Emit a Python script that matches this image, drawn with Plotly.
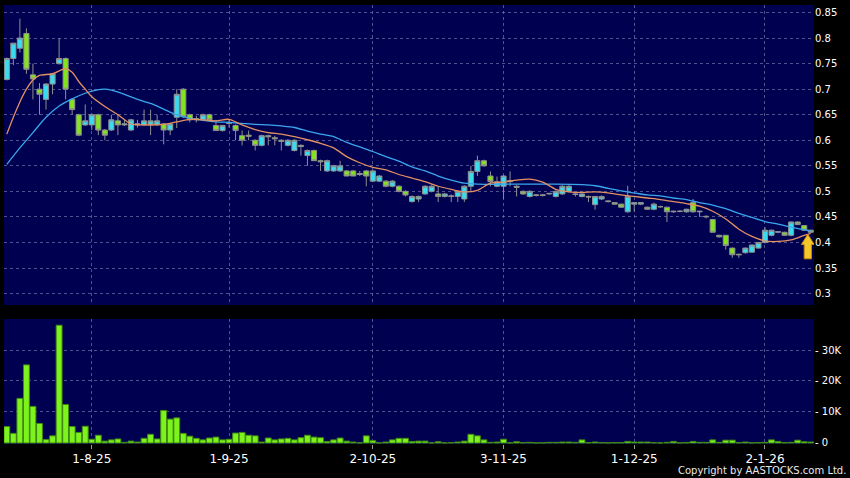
import plotly.graph_objects as go

# ---------------- data ----------------
opens = [0.719, 0.760, 0.780, 0.809, 0.728, 0.700, 0.680, 0.710, 0.750, 0.760,
         0.680, 0.650, 0.630, 0.630, 0.650, 0.620, 0.620, 0.638, 0.630, 0.620,
         0.630, 0.630, 0.631, 0.631, 0.632, 0.620, 0.645, 0.700, 0.650, 0.640,
         0.640, 0.650, 0.629, 0.619, 0.635, 0.629, 0.609, 0.610, 0.600, 0.590,
         0.609, 0.605, 0.600, 0.590, 0.580, 0.590, 0.570, 0.580, 0.560, 0.540,
         0.540, 0.540, 0.540, 0.540, 0.535, 0.540, 0.520, 0.520, 0.520, 0.510,
         0.510, 0.500, 0.480, 0.485, 0.495, 0.500, 0.495, 0.490, 0.490, 0.490,
         0.485, 0.510, 0.539, 0.560, 0.530, 0.510, 0.510, 0.519, 0.510, 0.500,
         0.490, 0.492, 0.492, 0.495, 0.490, 0.495, 0.500, 0.495, 0.490, 0.490,
         0.474, 0.485, 0.480, 0.478, 0.475, 0.460, 0.475, 0.475, 0.469, 0.465,
         0.470, 0.469, 0.460, 0.461, 0.460, 0.478, 0.460, 0.450, 0.445, 0.414,
         0.414, 0.389, 0.377, 0.380, 0.381, 0.389, 0.400, 0.414, 0.420, 0.420,
         0.414, 0.440, 0.433, 0.424]
closes = [0.760, 0.790, 0.800, 0.739, 0.720, 0.690, 0.710, 0.730, 0.760, 0.700,
          0.660, 0.610, 0.638, 0.650, 0.620, 0.610, 0.640, 0.630, 0.632, 0.640,
          0.632, 0.638, 0.638, 0.638, 0.620, 0.632, 0.690, 0.646, 0.640, 0.642,
          0.650, 0.640, 0.619, 0.629, 0.633, 0.619, 0.600, 0.608, 0.590, 0.609,
          0.607, 0.603, 0.598, 0.600, 0.600, 0.588, 0.580, 0.560, 0.558, 0.560,
          0.550, 0.550, 0.530, 0.530, 0.533, 0.530, 0.540, 0.530, 0.510, 0.520,
          0.500, 0.493, 0.490, 0.490, 0.510, 0.510, 0.490, 0.495, 0.491, 0.500,
          0.510, 0.539, 0.560, 0.550, 0.519, 0.519, 0.530, 0.521, 0.508, 0.495,
          0.500, 0.493, 0.493, 0.496, 0.500, 0.510, 0.510, 0.494, 0.495, 0.489,
          0.490, 0.490, 0.481, 0.475, 0.469, 0.490, 0.478, 0.478, 0.465, 0.475,
          0.470, 0.460, 0.461, 0.461, 0.465, 0.460, 0.461, 0.451, 0.420, 0.411,
          0.394, 0.376, 0.376, 0.389, 0.395, 0.400, 0.424, 0.424, 0.421, 0.414,
          0.440, 0.435, 0.424, 0.420]
highs = [0.762, 0.790, 0.838, 0.819, 0.750, 0.712, 0.712, 0.732, 0.800, 0.762,
         0.682, 0.652, 0.670, 0.652, 0.652, 0.622, 0.650, 0.650, 0.640, 0.642,
         0.640, 0.660, 0.660, 0.650, 0.634, 0.634, 0.700, 0.702, 0.652, 0.648,
         0.652, 0.652, 0.640, 0.630, 0.641, 0.631, 0.619, 0.619, 0.602, 0.611,
         0.611, 0.609, 0.602, 0.602, 0.602, 0.592, 0.582, 0.582, 0.562, 0.562,
         0.552, 0.560, 0.542, 0.542, 0.540, 0.542, 0.542, 0.532, 0.522, 0.522,
         0.512, 0.502, 0.492, 0.492, 0.512, 0.512, 0.510, 0.497, 0.494, 0.502,
         0.512, 0.550, 0.570, 0.562, 0.539, 0.529, 0.532, 0.539, 0.512, 0.502,
         0.502, 0.494, 0.494, 0.497, 0.502, 0.512, 0.512, 0.497, 0.496, 0.492,
         0.490, 0.492, 0.482, 0.479, 0.476, 0.511, 0.478, 0.478, 0.470, 0.478,
         0.472, 0.470, 0.462, 0.463, 0.466, 0.485, 0.462, 0.453, 0.446, 0.415,
         0.415, 0.390, 0.378, 0.390, 0.396, 0.401, 0.430, 0.425, 0.422, 0.421,
         0.441, 0.441, 0.434, 0.425]
lows = [0.717, 0.747, 0.772, 0.730, 0.680, 0.650, 0.660, 0.690, 0.748, 0.680,
        0.650, 0.608, 0.628, 0.620, 0.610, 0.600, 0.618, 0.610, 0.628, 0.618,
        0.625, 0.628, 0.610, 0.628, 0.592, 0.610, 0.624, 0.644, 0.635, 0.635,
        0.638, 0.638, 0.618, 0.617, 0.625, 0.600, 0.590, 0.600, 0.580, 0.588,
        0.590, 0.590, 0.580, 0.588, 0.578, 0.570, 0.550, 0.560, 0.540, 0.538,
        0.538, 0.538, 0.530, 0.530, 0.530, 0.510, 0.518, 0.518, 0.508, 0.508,
        0.498, 0.490, 0.478, 0.479, 0.493, 0.498, 0.479, 0.488, 0.479, 0.479,
        0.479, 0.500, 0.530, 0.548, 0.510, 0.508, 0.485, 0.510, 0.490, 0.493,
        0.488, 0.490, 0.490, 0.493, 0.488, 0.493, 0.498, 0.490, 0.488, 0.479,
        0.464, 0.483, 0.478, 0.474, 0.468, 0.458, 0.460, 0.473, 0.464, 0.463,
        0.468, 0.440, 0.458, 0.459, 0.458, 0.458, 0.450, 0.447, 0.420, 0.410,
        0.386, 0.370, 0.370, 0.378, 0.380, 0.388, 0.398, 0.412, 0.418, 0.413,
        0.412, 0.434, 0.423, 0.419]
volumes = [5300, 3100, 14400, 25200, 11800, 6300, 1100, 2300, 38000, 12400,
           5300, 3400, 5400, 1200, 2500, 600, 1000, 1300, 200, 600,
           300, 1500, 2800, 1300, 10500, 7700, 8100, 3100, 2200, 1500,
           1000, 1600, 1900, 1000, 1200, 3200, 3400, 2500, 2300, 300,
           1600, 1000, 1300, 1500, 1000, 1700, 2500, 1900, 1700, 500,
           1000, 1600, 600, 300, 0, 2300, 750, 0, 300, 1000,
           1500, 1500, 500, 600, 600, 0, 400, 0, 100, 300,
           600, 2800, 2300, 1000, 200, 300, 1200, 0, 400, 100,
           200, 0, 0, 200, 200, 300, 300, 200, 1000, 100,
           300, 100, 0, 100, 100, 500, 300, 300, 300, 100,
           0, 200, 500, 0, 100, 500, 200, 200, 1000, 200,
           900, 900, 100, 300, 0, 100, 200, 1000, 500, 100,
           200, 900, 400, 300]

# moving averages at selected sessions
ma_short_idx = [0, 1, 2, 3, 4, 5, 7, 9, 10, 11, 12, 13, 15, 17, 19, 21, 24, 26, 28, 30,
                32, 34, 36, 38, 40, 42, 44, 46, 48, 50, 52, 54, 56, 58, 60, 62, 64, 66, 68, 70,
                72, 74, 76, 78, 80, 82, 84, 86, 88, 90, 92, 94, 96, 98, 100, 102, 104, 106, 108, 110,
                112, 114, 116, 118, 120, 122, 123]
ma_short_val = [0.612, 0.645, 0.675, 0.700, 0.718, 0.727, 0.730, 0.740, 0.733, 0.715,
                0.700, 0.685, 0.666, 0.650, 0.632, 0.630, 0.631, 0.636, 0.641, 0.640,
                0.638, 0.641, 0.630, 0.621, 0.615, 0.612, 0.607, 0.601, 0.594, 0.585,
                0.568, 0.556, 0.547, 0.542, 0.533, 0.526, 0.519, 0.510, 0.504, 0.499,
                0.502, 0.516, 0.518, 0.522, 0.524, 0.518, 0.504, 0.499, 0.498, 0.499,
                0.497, 0.493, 0.490, 0.487, 0.484, 0.480, 0.476, 0.471, 0.461, 0.446,
                0.426, 0.412, 0.403, 0.402, 0.405, 0.414, 0.418]
ma_long_idx = [0, 2, 4, 6, 8, 10, 12, 14, 15, 16, 18, 20, 22, 24, 26, 28, 30, 32, 34, 36,
               38, 40, 42, 44, 46, 48, 50, 52, 54, 56, 58, 60, 62, 64, 66, 68, 70, 72, 76, 80,
               84, 88, 90, 92, 94, 96, 98, 100, 102, 104, 106, 108, 110, 112, 114, 116, 118, 120, 122, 123]
ma_long_val = [0.553, 0.585, 0.615, 0.645, 0.667, 0.681, 0.692, 0.699, 0.700, 0.698,
               0.690, 0.680, 0.672, 0.661, 0.650, 0.643, 0.639, 0.636, 0.635, 0.633,
               0.631, 0.630, 0.628, 0.625, 0.618, 0.612, 0.607, 0.596, 0.587, 0.578,
               0.568, 0.559, 0.548, 0.540, 0.530, 0.522, 0.516, 0.514, 0.514, 0.514,
               0.514, 0.513, 0.511, 0.506, 0.501, 0.497, 0.493, 0.491, 0.487, 0.484,
               0.478, 0.473, 0.466, 0.457, 0.449, 0.441, 0.436, 0.430, 0.425, 0.422]

tick_idx = [13, 34, 56, 76, 96, 116]
tick_text = ["1-8-25", "1-9-25", "2-10-25", "3-11-25", "1-12-25", "2-1-26"]
price_ticks = [0.3, 0.35, 0.4, 0.45, 0.5, 0.55, 0.6, 0.65, 0.7, 0.75, 0.8, 0.85]
vol_ticks = [0, 10000, 20000, 30000]
vol_text = ["0", "10K", "20K", "30K"]

# ---------------- figure ----------------
x = list(range(len(opens)))
n = len(x)

NAVY = "#000050"
GRID = "rgba(115,115,170,0.7)"
WICK = "#8f8f8f"
CYAN = "#38dcee"
LIME = "#84e31f"
FONT = "DejaVu Sans"

fig = go.Figure()

fig.add_trace(go.Candlestick(
    x=x, open=opens, high=highs, low=lows, close=closes,
    increasing=dict(fillcolor=CYAN, line=dict(color=WICK, width=1)),
    decreasing=dict(fillcolor=LIME, line=dict(color=WICK, width=1)),
    whiskerwidth=0, xaxis="x", yaxis="y", showlegend=False, hoverinfo="skip",
))

fig.add_trace(go.Scatter(
    x=ma_long_idx, y=ma_long_val, mode="lines",
    line=dict(color="#3aa6ee", width=1.3, shape="spline", smoothing=0.8),
    xaxis="x", yaxis="y", showlegend=False, hoverinfo="skip",
))
fig.add_trace(go.Scatter(
    x=ma_short_idx, y=ma_short_val, mode="lines",
    line=dict(color="#e39062", width=1.3, shape="spline", smoothing=0.8),
    xaxis="x", yaxis="y", showlegend=False, hoverinfo="skip",
))

fig.add_trace(go.Bar(
    x=x, y=volumes, marker=dict(color="#7ef21c", line=dict(color="#3f8a12", width=1)),
    xaxis="x2", yaxis="y2", showlegend=False, hoverinfo="skip",
))

# yellow arrow pointing at the latest session
ax = x[-1] - 0.45
tip = lows[-1] - 0.003
head = tip - 0.020
tail = tip - 0.048
arrow_path = (f"M {ax} {tip} L {ax + 0.98} {head} L {ax + 0.55} {head} "
              f"L {ax + 0.55} {tail} L {ax - 0.55} {tail} L {ax - 0.55} {head} "
              f"L {ax - 0.98} {head} Z")
fig.add_shape(type="path", path=arrow_path, xref="x", yref="y",
              fillcolor="#f7c62a", line=dict(color="#c98a0c", width=1))

xr = [-0.43, n - 0.5]
common_x = dict(range=xr, tickmode="array", tickvals=tick_idx, showgrid=True,
                gridcolor=GRID, griddash="3px,3px", gridwidth=1, zeroline=False,
                showline=False)

fig.update_layout(
    width=850, height=478,
    margin=dict(l=4, r=36, t=5, b=34),
    paper_bgcolor="black", plot_bgcolor=NAVY,
    bargap=0.1, boxgap=0.22, boxgroupgap=0,
    showlegend=False,
    font=dict(family=FONT, color="#ffffff"),
    xaxis=dict(**common_x, domain=[0, 1], anchor="y", showticklabels=False,
               ticks="", rangeslider=dict(visible=False)),
    xaxis2=dict(**common_x, domain=[0, 1], anchor="y2", matches="x",
                ticktext=tick_text, showticklabels=True, ticks="outside",
                ticklen=4, tickcolor="#9a9a9a", tickfont=dict(size=12, color="#ffffff")),
    yaxis=dict(domain=[0.3166, 1], range=[0.2776, 0.8647], side="right", anchor="x",
               tickmode="array", tickvals=price_ticks, tickprefix="- ",
               tickfont=dict(size=10, color="#ffffff"), ticks="",
               showgrid=True, gridcolor=GRID, griddash="3px,3px", zeroline=False),
    yaxis2=dict(domain=[0, 0.2847], range=[-330, 40000], side="right", anchor="x2",
                tickmode="array", tickvals=vol_ticks,
                ticktext=["- " + t for t in vol_text],
                tickfont=dict(size=10, color="#ffffff"), ticks="",
                showgrid=True, gridcolor=GRID, griddash="3px,3px", zeroline=False),
)

fig.add_annotation(text="Copyright by AASTOCKS.com Ltd.", xref="paper", yref="paper",
                   x=1.042, y=-0.06, xanchor="right", yanchor="middle", showarrow=False,
                   font=dict(family=FONT, size=10, color="#e8e8e8"))

fig.write_html(
    "out.html",
    config={"displayModeBar": False, "staticPlot": True},
    post_script="document.body.style.margin='0';document.body.style.overflow='hidden';"
                "document.body.style.background='black';",
)
